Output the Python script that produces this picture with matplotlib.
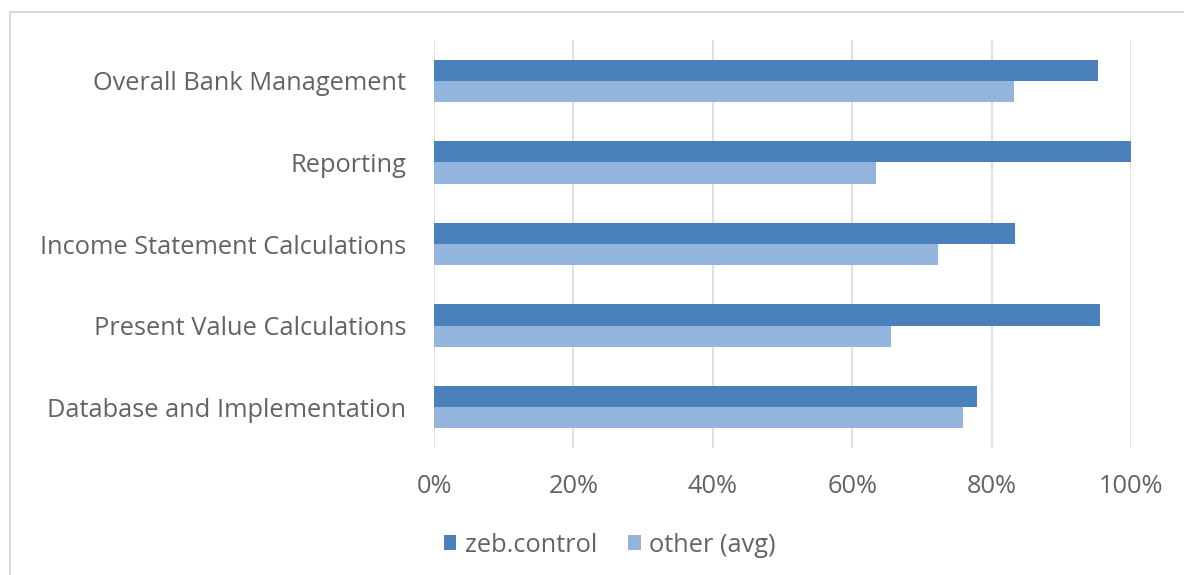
import matplotlib.pyplot as plt
import numpy as np
from matplotlib.patches import Rectangle

categories = ['Overall Bank Management', 'Reporting', 'Income Statement Calculations',
              'Present Value Calculations', 'Database and Implementation']
zeb_control = [95.3, 100.0, 83.4, 95.6, 77.9]
other_avg = [83.2, 63.4, 72.3, 65.6, 75.9]
ticks = [0, 20, 40, 60, 80, 100]

plt.rcParams['font.family'] = ['Open Sans', 'DejaVu Sans']
text_color = '#636363'
fs = 18.3

fig = plt.figure(figsize=(11.84, 5.75), dpi=100)
ax = fig.add_axes([0.3666, 0.2209, 0.5887, 0.7095])

y = np.arange(len(categories))
h = 0.26
ax.barh(y - h / 2, zeb_control, height=h, color='#4A81BA', label='zeb.control', zorder=3)
ax.barh(y + h / 2, other_avg, height=h, color='#93B4DD', label='other (avg)', zorder=3)

ax.set_ylim(len(categories) - 0.5, -0.5)
ax.set_xlim(0, 100)
ax.set_yticks(y)
ax.set_yticklabels(categories, fontsize=fs, color=text_color)
ax.set_xticks(ticks)
ax.set_xticklabels([f'{t}%' for t in ticks], fontsize=fs, color=text_color)
ax.tick_params(axis='y', length=0, pad=20)
ax.tick_params(axis='x', length=0, pad=19)
ax.grid(axis='x', color='#D9D9D9', linewidth=1.2, zorder=0)
for s in ax.spines.values():
    s.set_visible(False)

fig.legend(loc='center', bbox_to_anchor=(0.515, 0.052), ncol=2, frameon=False,
           fontsize=fs, labelcolor=text_color, handlelength=0.5, handleheight=0.5,
           handletextpad=0.35, columnspacing=1.2)

fig.patches.append(Rectangle((10 / 1184, -0.1), 1.2, 1 - 12 / 575 + 0.1, transform=fig.transFigure,
                             fill=False, edgecolor='#D9D9D9', linewidth=1.5))

fig.savefig('out.png', dpi=100)
